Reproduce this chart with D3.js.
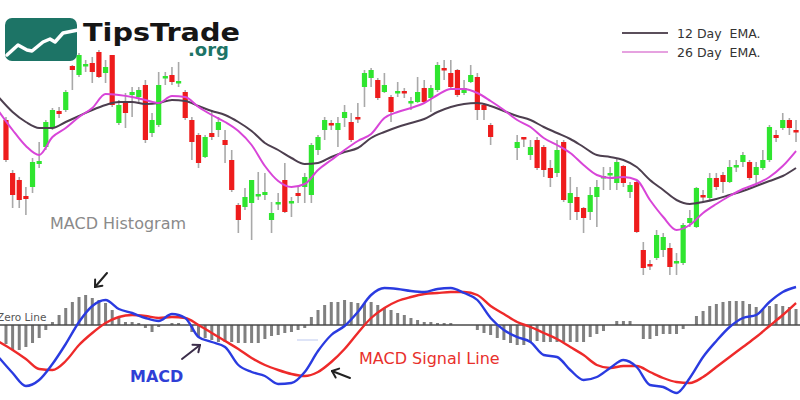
<!DOCTYPE html>
<html><head><meta charset="utf-8">
<script src="https://cdn.jsdelivr.net/npm/d3@7"></script>
<style>html,body{margin:0;padding:0;background:#fff;} svg{display:block;} text{font-family:"DejaVu Sans",sans-serif;}</style>
</head><body>
<svg id="chart" width="800" height="400"></svg>
<script>
// ---- DATA ----
const days = d3.range(120);
const openP = [180,127,120,104,113,136,153,173,189,190, 234,225,234,237,248,227,245,177,198,205, 203,215,167,175,222,225,217,208,180,165, 143,167,170,160,140,95,93,97,104,105, 80,96,120,97,107,113,105,150,170,177, 170,182,178,183,213,222,220,208,203,207, 209,197,198,212,202,210,232,227,230,207, 218,223,195,175,null,null,null,152,163,145, 160,153,132,127,158,97,103,92,88,103, 122,125,117,134,108,118,50,36,42,50, 52,37,37,77,73,105,102,122,125,118, 133,138,138,125,132,140,165,172,180,170];
const closeP = [140,105,100,101,138,139,178,190,186,208, 230,245,236,228,223,233,195,195,187,208, 210,160,180,215,224,218,219,182,158,137, 163,163,178,155,110,80,103,120,106,108, 87,98,88,99,104,123,155,163,180,175, 177,188,160,181,227,230,202,215,188,209, 207,199,208,198,212,235,230,213,205,212, 225,190,190,163,null,null,null,158,161,153, 132,130,122,150,100,107,88,82,105,113, 124,127,138,117,115,68,32,34,65,63, 33,39,75,82,112,103,122,113,118,133, 135,145,122,133,140,173,162,180,172,168];
const highP = [183,130,123,113,142,158,180,192,193,210, 235,247,240,243,250,240,245,200,207,213, 213,220,187,228,228,233,238,210,183,167, 165,190,183,170,150,97,112,120,128,127, 98,107,137,103,113,127,157,165,183,180, 183,195,187,197,230,232,222,227,205,218, 212,203,223,220,215,238,240,240,231,220, 235,227,197,177,null,null,null,165,163,160, 163,155,140,160,160,123,113,93,113,120, 133,133,142,135,118,120,58,40,70,67, 57,47,77,90,113,110,127,127,128,140, 140,148,140,138,150,175,170,187,182,180];
const lowP = [138,92,92,85,107,132,150,170,182,188, 210,223,228,217,222,217,193,175,172,183, 197,157,163,173,215,215,213,180,140,132, 142,160,163,137,108,67,90,60,100,100, 67,90,87,83,97,97,97,145,160,170, 153,173,158,177,193,213,200,207,178,203, 202,190,197,197,188,208,220,212,203,205, 217,180,180,155,null,null,null,140,153,140, 130,123,113,123,98,80,80,67,80,73, 110,110,110,113,102,67,25,30,40,43, 25,25,35,73,72,98,100,110,107,117, 128,133,120,113,130,138,158,170,165,158];

const lineDays = d3.range(-1, 120, 2);
const ema12 = [202,188,178,172,172,178,184,190,195,198, 198,196,197,200,199,194,189,185,178,169, 157,150,142,136,137,143,148,152,162,168, 173,177,181,188,193,196,197,194,189,184, 180,173,167,161,153,145,143,140,133,120, 110,100,96,98,101,105,109,114,119,124, 132];
const ema26 = [188,170,154,145,163,172,183,192,206,205, 203,200,197,204,203,193,185,178,169,155, 134,119,113,116,130,140,150,159,166,182, 188,192,197,205,211,211,207,199,190,180, 173,162,155,147,135,125,122,123,120,100, 83,70,75,87,96,104,111,116,123,134, 149];
const macdLine = [-3.3,-4.8,-6.1,-5.5,-3.9,-1.9,0.3,1.9,2.5,1.6, 1.2,0.7,0.4,1.1,0.7,-1.2,-1.7,-2.2,-4.0,-4.7, -5.1,-5.9,-5.8,-4.7,-2.6,-1.0,-0.1,1.3,3.0,3.7, 3.6,3.4,3.3,3.6,3.7,3.2,2.5,0.7,-0.5,-1.2, -1.7,-3.0,-3.2,-4.5,-5.5,-5.2,-4.3,-3.5,-4.2,-6.0, -6.2,-6.8,-5.3,-3.2,-1.6,-0.2,0.7,1.0,2.3,3.3, 3.8];
const signalLine = [-1.7,-2.5,-3.4,-4.4,-4.5,-3.6,-2.0,-0.8,0.2,0.8, 1.0,0.9,0.7,0.8,0.7,0.0,-0.8,-1.6,-2.4,-3.3, -4.0,-4.5,-4.9,-5.1,-4.7,-3.7,-2.4,-0.8,0.7,1.7, 2.4,2.8,3.1,3.2,3.3,3.3,3.0,1.9,1.1,0.3, -0.2,-0.8,-1.4,-2.2,-3.0,-4.0,-4.3,-4.1,-4.1,-4.7, -5.3,-5.7,-5.8,-5.2,-4.2,-3.2,-2.2,-1.2,-0.1,1.0, 2.2];
const histogram = [-1.9,-2.5,-2.5,-2.2,-1.8,-1.3,-0.5,0.3,1.0,1.7, 2.3,2.8,3.0,2.7,2.5,2.2,1.5,0.7,0.3,0.3, 0.2,-0.3,-0.7,-0.2,0,0.2,0.2,0,-0.7,-1.2, -1.3,-1.5,-1.7,-1.7,-1.7,-1.8,-1.8,-1.8,-1.8,-1.4, -1.1,-1.0,-0.8,-0.7,-0.5,-0.3,0.8,1.5,2.0,2.3, 2.3,2.5,2.3,2.2,2.2,2.3,2.0,1.7,1.5,1.2, 1.0,0.7,0.5,0.3,0.3,0.2,0.2,0.2,0,0, 0,-0.5,-0.8,-1.0,-1.3,-1.5,-1.8,-2.0,-2.0,-1.7, -1.6,-1.7,-1.7,-1.7,-1.7,-1.7,-1.7,-1.7,-1.2,-0.9, -0.6,0,0.4,0.4,0.4,0,-1.4,-1.4,-1.1,-0.9, -0.9,-0.9,-0.4,0,0.9,1.4,1.9,2.1,2.3,2.4, 2.4,2.4,2.1,1.8,1.6,1.9,2.1,1.9,1.8,1.6];

const legendLabels = ["12 Day  EMA.", "26 Day  EMA."];

// ---- CHART ----
const svg = d3.select("#chart");
svg.append("rect").attr("width", 800).attr("height", 400).attr("fill", "#fff");

const x = d3.scaleLinear().domain([-0.9, 119.6]).range([0, 800]);
const yP = d3.scaleLinear().domain([20, 260]).range([280, 40]);
const yM = d3.scaleLinear().domain([-7.5, 7.5]).range([400, 250]);

const RED = "#ee1c1c", GREEN = "#2fe52f";

const candles = days.map(i => ({i, o: openP[i], c: closeP[i], h: highP[i], l: lowP[i]})).filter(d => d.o != null);

const cg = svg.append("g");
cg.selectAll("line.wick").data(candles).join("line")
  .attr("x1", d => x(d.i)).attr("x2", d => x(d.i))
  .attr("y1", d => yP(d.h)).attr("y2", d => yP(d.l))
  .attr("stroke", "#a9a9a9").attr("stroke-width", 1.6);
cg.selectAll("rect.body").data(candles).join("rect")
  .attr("x", d => x(d.i) - 2.6).attr("width", 5.2)
  .attr("y", d => yP(Math.max(d.o, d.c)))
  .attr("height", d => Math.max(2.5, Math.abs(yP(d.o) - yP(d.c))))
  .attr("fill", d => d.c >= d.o ? GREEN : RED);

const lineP = d3.line().x((d, k) => x(lineDays[k])).y(d => yP(d)).curve(d3.curveMonotoneX);
svg.append("path").attr("d", lineP(ema12)).attr("fill", "none").attr("stroke", "#4d3f4f").attr("stroke-width", 2);
svg.append("path").attr("d", lineP(ema26)).attr("fill", "none").attr("stroke", "#d845d8").attr("stroke-width", 2);

// MACD panel
const hg = svg.append("g");
hg.selectAll("rect").data(days.map(i => ({i, v: histogram[i]}))).join("rect")
  .attr("x", d => x(d.i) - 1.5).attr("width", 3)
  .attr("y", d => yM(Math.max(0, d.v)))
  .attr("height", d => Math.abs(yM(d.v) - yM(0)))
  .attr("fill", "#808080");
svg.append("line").attr("x1", 0).attr("x2", 800).attr("y1", yM(0)).attr("y2", yM(0))
  .attr("stroke", "#4a4a4a").attr("stroke-width", 1.6);

const lineM = d3.line().x((d, k) => x(lineDays[k])).y(d => yM(d)).curve(d3.curveMonotoneX);
svg.append("path").attr("d", lineM(signalLine)).attr("fill", "none").attr("stroke", "#ee2a2a").attr("stroke-width", 2.4);
svg.append("path").attr("d", lineM(macdLine)).attr("fill", "none").attr("stroke", "#2a3be0").attr("stroke-width", 2.4);

// faint mark
svg.append("line").attr("x1", 297).attr("x2", 318).attr("y1", 340).attr("y2", 340).attr("stroke", "#c9d2f2").attr("stroke-width", 1.2);

// Annotations
svg.append("text").attr("x", 50).attr("y", 229).attr("font-size", 16).attr("fill", "#8a8a8a").text("MACD Histogram");
svg.append("text").attr("x", -3).attr("y", 321).attr("font-size", 10.5).attr("fill", "#555").text("Zero Line");
svg.append("text").attr("x", 130).attr("y", 382).attr("font-size", 16).attr("font-weight", "bold").attr("fill", "#2f3fd6").text("MACD");
svg.append("text").attr("x", 359).attr("y", 364).attr("font-size", 16).attr("fill", "#e8302c").text("MACD Signal Line");

function arrow(x1, y1, x2, y2, color) {
  const a = Math.atan2(y2 - y1, x2 - x1), L = 7.5;
  const g = svg.append("g").attr("stroke", color).attr("stroke-width", 2).attr("fill", "none").attr("stroke-linecap", "round");
  g.append("line").attr("x1", x1).attr("y1", y1).attr("x2", x2).attr("y2", y2);
  [Math.PI * 0.78, -Math.PI * 0.78].forEach(o => {
    g.append("line").attr("x1", x2).attr("y1", y2)
      .attr("x2", x2 + L * Math.cos(a + o)).attr("y2", y2 + L * Math.sin(a + o));
  });
}
arrow(107, 273, 95, 287, "#222");
arrow(182, 359, 200, 345, "#3b2d4a");
arrow(350, 378, 332, 371, "#222");

// Legend
const lg = svg.append("g");
const legendColors = ["#5b4f5b", "#e6a2e0"];
legendLabels.forEach((t, k) => {
  lg.append("line").attr("x1", 622).attr("x2", 668).attr("y1", 33 + k * 19).attr("y2", 33 + k * 19)
    .attr("stroke", legendColors[k]).attr("stroke-width", 2);
  lg.append("text").attr("x", 677).attr("y", 38 + k * 18.5).attr("font-size", 12.5).attr("fill", "#333")
    .style("white-space", "pre").text(t);
});

// Logo
const logo = svg.append("g");
logo.append("rect").attr("x", 5).attr("y", 18).attr("width", 72).attr("height", 43).attr("rx", 7).attr("fill", "#1d7466");
logo.append("path").attr("d", "M7,55 L18,45 L27,50 L32,51 L43,42 L50,39 L55,42 L63,33 L78,30")
  .attr("fill", "none").attr("stroke", "#fff").attr("stroke-width", 3.5).attr("stroke-linejoin", "round").attr("stroke-linecap", "round");
logo.append("text").attr("x", 83).attr("y", 41).attr("font-size", 25).attr("font-weight", "bold").attr("fill", "#151515")
  .attr("textLength", 157).attr("lengthAdjust", "spacingAndGlyphs").text("TipsTrade");
logo.append("text").attr("x", 188).attr("y", 56).attr("font-size", 18).attr("font-weight", "bold").attr("fill", "#1d7466").text(".org");
</script>
</body></html>
